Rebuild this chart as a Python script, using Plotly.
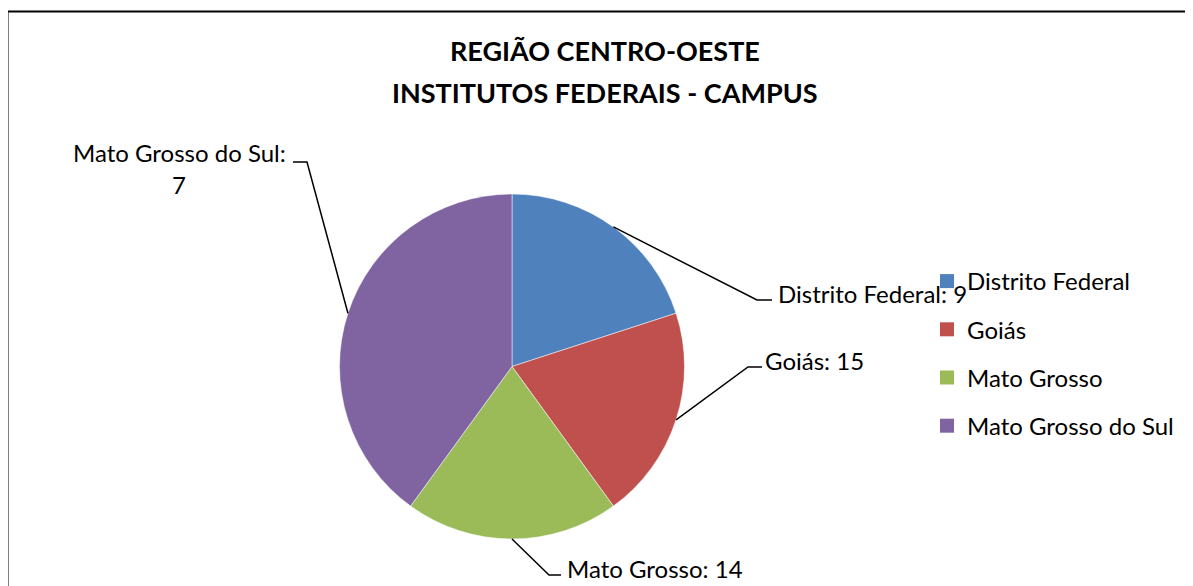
import math
import plotly.graph_objects as go

# ---- data ----
categories = ["Distrito Federal", "Goiás", "Mato Grosso", "Mato Grosso do Sul"]
label_values = [9, 15, 14, 7]          # numbers printed in the data labels
slice_shares = [20, 20, 20, 40]        # slice sizes as drawn in the picture (%)
colors = ["#4F81BD", "#C0504D", "#9BBB59", "#8064A2"]
title_lines = ["REGIÃO CENTRO-OESTE", "INSTITUTOS FEDERAIS - CAMPUS"]

OFF = 8                      # page body margin
W, H = 1193 - OFF, 586 - OFF
FONT = "Lato"


def px(x):
    return (x - OFF) / W


def py(y):
    return 1 - (y - OFF) / H


# pie geometry (pixels in the reference)
CX, CY, R = 512, 366.5, 172.5

fig = go.Figure()
fig.add_trace(go.Pie(
    labels=categories, values=slice_shares, sort=False, direction="clockwise",
    rotation=0, marker=dict(colors=colors, line=dict(color="white", width=0.5)),
    textinfo="none", hoverinfo="label+value", showlegend=False,
    domain=dict(x=[px(CX - R), px(CX + R)], y=[py(CY + R), py(CY - R)]),
))

# legend entries
for i, (c, col) in enumerate(zip(categories, colors)):
    fig.add_trace(go.Scatter(
        x=[None], y=[None], mode="markers", name=c, legendgroup=f"g{i}",
        marker=dict(symbol="square", size=14, color=col),
    ))

# leader lines start at slice mid-angles computed from the data
total = sum(slice_shares)
mids = []
acc = 0
for v in slice_shares:
    mids.append((acc + v / 2) / total * 2 * math.pi)
    acc += v
starts = [(CX + R * math.sin(a), CY - R * math.cos(a)) for a in mids]

# label layout: (elbow, end of horizontal tick)
elbows = [((757, 300), (772, 300)), ((748, 367), (762, 367)),
          ((549, 575), (561, 575)), ((307, 162), (293, 162))]
shapes = []
for (sx, sy), ((ex, ey), (hx, hy)) in zip(starts, elbows):
    path = f"M {px(sx)} {py(sy)} L {px(ex)} {py(ey)} L {px(hx)} {py(hy)}"
    shapes.append(dict(type="path", xref="paper", yref="paper", path=path,
                       line=dict(color="black", width=1.5)))

# chart border (left and top edges visible)
shapes.append(dict(type="rect", xref="paper", yref="paper",
                   x0=px(7.5), y0=-0.05, x1=1.05, y1=py(11.5),
                   line=dict(color="black", width=2)))

fs = 24
annotations = [
    dict(text=f"<b>{title_lines[0]}</b>", x=px(605), y=py(50), xref="paper", yref="paper",
         showarrow=False, xanchor="center", yanchor="middle",
         font=dict(family=FONT, size=27, color="black")),
    dict(text=f"<b>{title_lines[1]}</b>", x=px(605), y=py(92), xref="paper", yref="paper",
         showarrow=False, xanchor="center", yanchor="middle",
         font=dict(family=FONT, size=27, color="black")),
    dict(text=f"{categories[0]}: {label_values[0]}", x=px(776), y=py(293),
         xanchor="left", yanchor="middle"),
    dict(text=f"{categories[1]}: {label_values[1]}", x=px(763), y=py(360),
         xanchor="left", yanchor="middle"),
    dict(text=f"{categories[2]}: {label_values[2]}", x=px(565), y=py(568),
         xanchor="left", yanchor="middle"),
    dict(text=f"{categories[3]}:", x=px(179), y=py(153),
         xanchor="center", yanchor="middle"),
    dict(text=f"{label_values[3]}", x=px(179), y=py(185),
         xanchor="center", yanchor="middle"),
]
for a in annotations[2:]:
    a.update(xref="paper", yref="paper", showarrow=False,
             font=dict(family=FONT, size=fs, color="black"))

fig.update_layout(
    width=W, height=H, margin=dict(l=0, r=0, t=0, b=0),
    paper_bgcolor="white", plot_bgcolor="white",
    xaxis=dict(visible=False), yaxis=dict(visible=False),
    shapes=shapes, annotations=annotations,
    showlegend=True,
    legend=dict(x=px(927), y=py(259), xanchor="left", yanchor="top",
                font=dict(family=FONT, size=fs, color="black"),
                tracegroupgap=14, bgcolor="rgba(0,0,0,0)"),
)

fig.write_html("out.html")
